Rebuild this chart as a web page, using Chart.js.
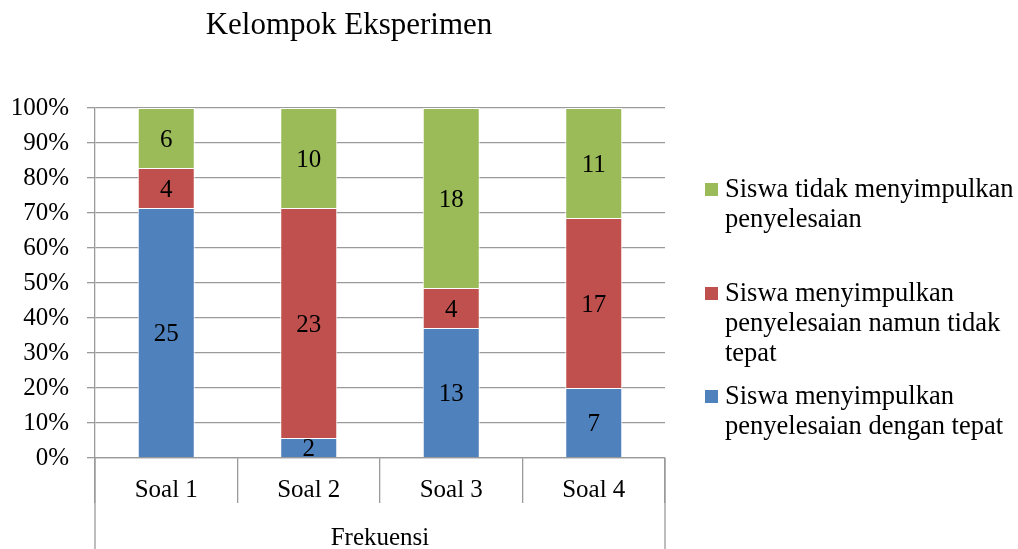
<!DOCTYPE html>
<html lang="id">
<head>
    <meta charset="UTF-8">
    <title>Kelompok Eksperimen</title>
    <style>
        body {
            margin: 0;
            padding: 0;
            background-color: #fff;
        }
        canvas {
            display: block;
        }
    </style>
</head>
<body>
    <canvas id="chart" width="1018" height="549"></canvas>

    <script src="https://cdn.jsdelivr.net/npm/chart.js"></script>
    <script>
        // data (counts per question)
        const categories = ['Soal 1', 'Soal 2', 'Soal 3', 'Soal 4'];
        const tepat = [25, 2, 13, 7];          // Siswa menyimpulkan penyelesaian dengan tepat
        const tidakTepat = [4, 23, 4, 17];     // Siswa menyimpulkan penyelesaian namun tidak tepat
        const tidakMenyimpulkan = [6, 10, 18, 11]; // Siswa tidak menyimpulkan penyelesaian
        const yTicks = [0, 10, 20, 30, 40, 50, 60, 70, 80, 90, 100];

        const FONT = "'Liberation Serif', 'Times New Roman', serif";
        const GRID = '#9a9a9a';

        const totals = categories.map((c, i) => tepat[i] + tidakTepat[i] + tidakMenyimpulkan[i]);
        const toPct = arr => arr.map((v, i) => v / totals[i] * 100);

        const series = [
            { label: ['Siswa menyimpulkan', 'penyelesaian dengan tepat'], counts: tepat, color: '#4F81BD' },
            { label: ['Siswa menyimpulkan', 'penyelesaian namun tidak', 'tepat'], counts: tidakTepat, color: '#C0504D' },
            { label: ['Siswa tidak menyimpulkan', 'penyelesaian'], counts: tidakMenyimpulkan, color: '#9BBB59' }
        ];

        // counts written in the middle of each segment
        const segmentLabels = {
            id: 'segmentLabels',
            afterDatasetsDraw(chart) {
                const ctx = chart.ctx;
                ctx.save();
                ctx.font = '25px ' + FONT;
                ctx.fillStyle = '#000';
                ctx.textAlign = 'center';
                ctx.textBaseline = 'middle';
                chart.data.datasets.forEach((ds, di) => {
                    chart.getDatasetMeta(di).data.forEach((bar, i) => {
                        ctx.fillText(String(ds.counts[i]), bar.x, (bar.y + bar.base) / 2 + 2);
                    });
                });
                ctx.restore();
            }
        };

        // title, legend on the right and the outer lines of the "Frekuensi" row
        const extras = {
            id: 'extras',
            afterDraw(chart) {
                const ctx = chart.ctx;
                const x = chart.scales.x;
                ctx.save();

                ctx.fillStyle = '#000';
                ctx.font = '31px ' + FONT;
                ctx.textAlign = 'center';
                ctx.textBaseline = 'middle';
                ctx.fillText('Kelompok Eksperimen', 349, 26);

                ctx.strokeStyle = GRID;
                ctx.lineWidth = 1.3;
                ctx.beginPath();
                ctx.moveTo(x.left, x.top);
                ctx.lineTo(x.left, chart.height);
                ctx.moveTo(x.right, x.top);
                ctx.lineTo(x.right, chart.height);
                ctx.stroke();

                // legend, top entry is the top segment
                const legendTop = [190, 294, 397];
                ctx.font = '26.5px ' + FONT;
                ctx.textAlign = 'left';
                series.slice().reverse().forEach((s, k) => {
                    const y0 = legendTop[k];
                    ctx.fillStyle = s.color;
                    ctx.fillRect(705, y0 - 7, 13, 13);
                    ctx.fillStyle = '#000';
                    s.label.forEach((line, j) => {
                        ctx.fillText(line, 725, y0 + j * 30);
                    });
                });
                ctx.restore();
            }
        };

        new Chart(document.getElementById('chart'), {
            type: 'bar',
            data: {
                labels: categories,
                datasets: series.map(s => ({
                    label: s.label.join(' '),
                    data: toPct(s.counts),
                    counts: s.counts,
                    backgroundColor: s.color,
                    borderColor: '#ffffff',
                    borderWidth: 1,
                    categoryPercentage: 1,
                    barPercentage: 0.4
                }))
            },
            options: {
                responsive: false,
                animation: false,
                layout: {
                    padding: { top: 108, right: 353, left: 0, bottom: 0 }
                },
                plugins: {
                    legend: { display: false },
                    title: { display: false },
                    tooltip: { enabled: false }
                },
                scales: {
                    x: {
                        stacked: true,
                        afterFit(scale) { scale.height = 91; },
                        grid: {
                            display: true,
                            offset: true,
                            drawOnChartArea: false,
                            tickLength: 45,
                            color: GRID,
                            lineWidth: 1.3
                        },
                        border: { display: true, color: GRID, width: 1.3 },
                        ticks: {
                            color: '#000',
                            font: { family: FONT, size: 25 },
                            padding: -28,
                            maxRotation: 0
                        },
                        title: {
                            display: true,
                            text: 'Frekuensi',
                            color: '#000',
                            font: { family: FONT, size: 25 },
                            padding: { top: 0, bottom: -4 }
                        }
                    },
                    y: {
                        stacked: true,
                        min: 0,
                        max: 100,
                        afterFit(scale) { scale.width = 95; },
                        afterBuildTicks(scale) {
                            scale.ticks = yTicks.map(v => ({ value: v }));
                        },
                        grid: {
                            color: GRID,
                            lineWidth: 1.3,
                            tickLength: 8
                        },
                        border: { display: true, color: GRID, width: 1.3 },
                        ticks: {
                            color: '#000',
                            font: { family: FONT, size: 25 },
                            padding: 18,
                            callback: v => v + '%'
                        }
                    }
                }
            },
            plugins: [segmentLabels, extras]
        });
    </script>
</body>
</html>
